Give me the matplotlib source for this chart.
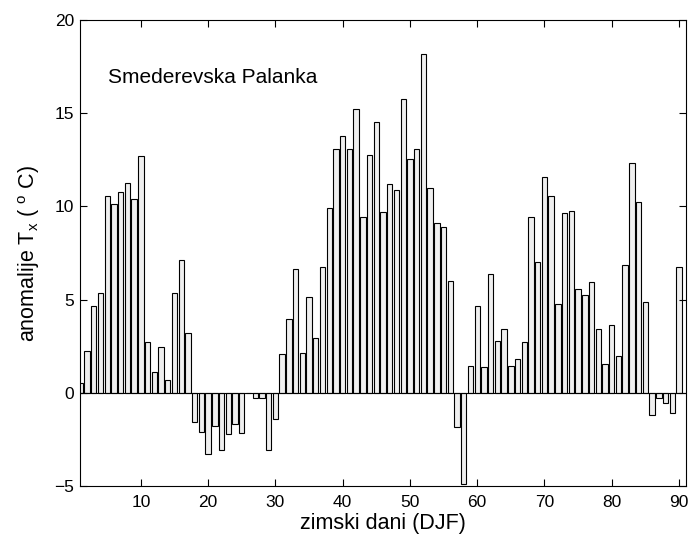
"""
Daily Tx anomalies for the winter season (DJF) at Smederevska Palanka.
Bar chart, one bar per winter day.
"""
import matplotlib
matplotlib.use("Agg")
import matplotlib.pyplot as plt
import numpy as np

plt.rcParams["font.family"] = ["Liberation Sans", "DejaVu Sans"]
plt.rcParams["mathtext.fontset"] = "custom"
plt.rcParams["mathtext.rm"] = "Liberation Sans"
plt.rcParams["mathtext.it"] = "Liberation Sans"

STATION = "Smederevska Palanka"
X_LABEL = "zimski dani (DJF)"
Y_LABEL = r"anomalije T$_{\mathrm{x}}$ ( $^{\mathrm{o}}$ C)"

# anomaly of daily maximum temperature, days 1..90 (Dec-Jan-Feb)
days = np.arange(1, 91)
anomaly = [
    0.5, 2.25, 4.65, 5.33, 10.55, 10.15, 10.75, 11.25, 10.4, 12.7,
    2.75, 1.12, 2.45, 0.68, 5.33, 7.1, 3.22, -1.55, -2.09, -3.28,
    -1.78, -3.07, -2.23, -1.69, -2.17, 0.0, -0.3, -0.3, -3.07, -1.41,
    2.06, 3.95, 6.64, 2.11, 5.12, 2.95, 6.76, 9.93, 13.08, 13.8,
    13.08, 15.2, 9.45, 12.75, 14.54, 9.68, 11.18, 10.88, 15.74, 12.52,
    13.06, 18.16, 10.97, 9.09, 8.87, 6.01, -1.86, -4.87, 1.45, 4.65,
    1.36, 6.4, 2.77, 3.45, 1.45, 1.84, 2.7, 9.45, 7.0, 11.56,
    10.57, 4.74, 9.66, 9.75, 5.56, 5.24, 5.92, 3.45, 1.52, 3.63,
    2.0, 6.85, 12.35, 10.25, 4.88, -1.2, -0.3, -0.52, -1.06, 6.73,
]

x_ticks = list(range(10, 91, 10))
y_ticks = list(range(-5, 21, 5))

fig = plt.figure(figsize=(6.9, 5.39), dpi=100)
ax = fig.add_axes([0.1164, 0.0983, 0.8774, 0.8646])

ax.bar(days, anomaly, width=0.8, color="#efefef", edgecolor="black", linewidth=0.8)
ax.axhline(0, color="black", linewidth=0.8)

ax.set_xlim(1, 91)
ax.set_ylim(-5, 20)
ax.set_xticks(x_ticks)
ax.set_yticks(y_ticks)
ax.tick_params(direction="in", length=5, width=0.8, top=True, right=True,
               labelsize=12.5)
ax.tick_params(axis="x", pad=6.5)
ax.tick_params(axis="y", pad=4.3)
for side in ax.spines.values():
    side.set_linewidth(0.8)

ax.set_xlabel(X_LABEL, fontsize=15.5, labelpad=2)
ax.set_ylabel(Y_LABEL, fontsize=15.5)
ax.yaxis.set_label_coords(-0.063, 0.5)
ax.text(5.1, 16.6, STATION, fontsize=15, va="baseline", ha="left")

fig.savefig("out.png", dpi=100)
plt.close(fig)
